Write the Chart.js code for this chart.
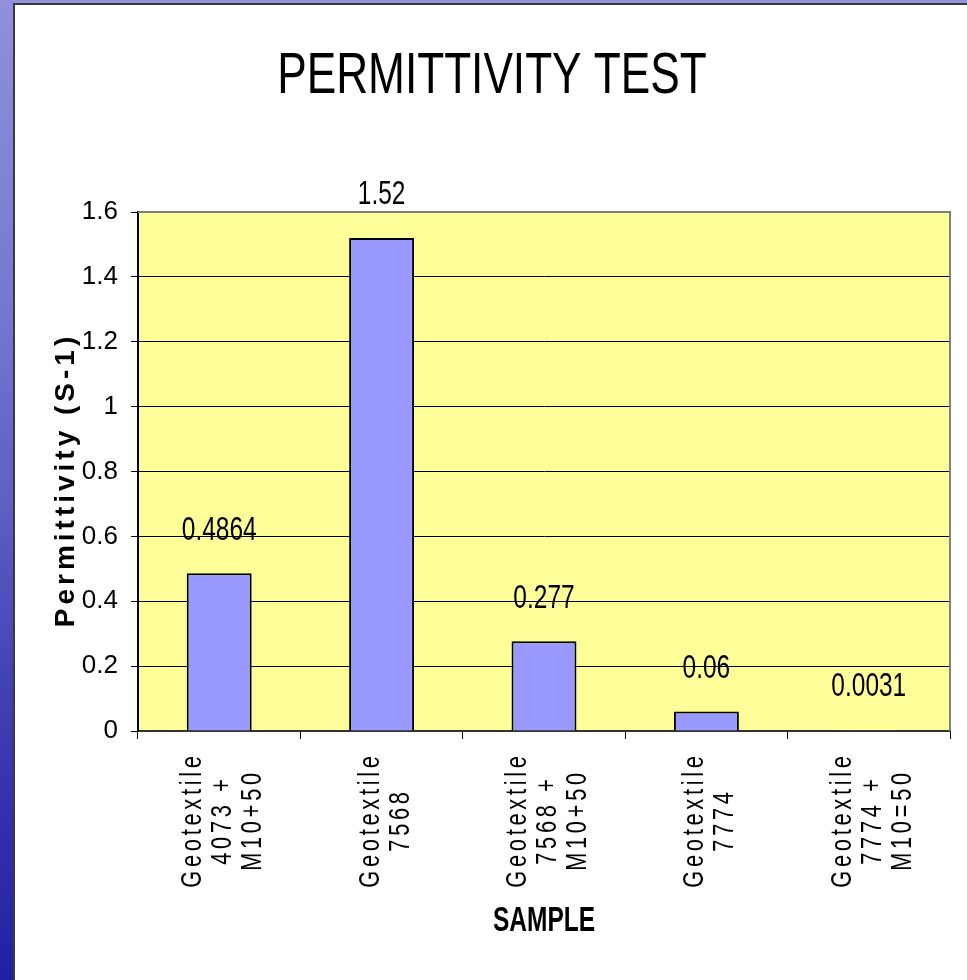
<!DOCTYPE html>
<html>
<head>
<meta charset="utf-8">
<title>Permittivity test</title>
<script src="https://cdn.jsdelivr.net/npm/chart.js@4/dist/chart.umd.min.js"></script>
<style>
  html, body { margin: 0; padding: 0; width: 967px; height: 980px; overflow: hidden; }
  body {
    position: relative;
    background: linear-gradient(to bottom, #9090dc 0%, #7878d2 30%, #6060c6 50%, #3a3ab2 75%, #2020a6 100%);
  }
  #panel {
    position: absolute; left: 13px; top: 3px; width: 952px; height: 975px;
    background: #fff; border-left: 2px solid #3a3a3a; border-top: 2px solid #3a3a3a;
  }
  #chart { position: absolute; left: 0; top: 0; }
</style>
</head>
<body>
<div id="panel"></div>
<canvas id="chart" width="967" height="980"></canvas>
<script>
// chart data
const samples = [
    ['Geotextile', '4073 +', 'M10+50'],
    ['Geotextile', '7568'],
    ['Geotextile', '7568 +', 'M10+50'],
    ['Geotextile', '7774'],
    ['Geotextile', '7774 +', 'M10=50']
];
const permittivity = [0.4864, 1.52, 0.277, 0.06, 0.0031];
const valueLabels = ['0.4864', '1.52', '0.277', '0.06', '0.0031'];
const yTicks = [0, 0.2, 0.4, 0.6, 0.8, 1, 1.2, 1.4, 1.6];
const chartTitle = 'PERMITTIVITY TEST';
const xTitle = 'SAMPLE';
const yTitle = 'Permittivity (S-1)';

const family = '"Liberation Sans", Arial, sans-serif';
Chart.defaults.font.family = family;
Chart.defaults.color = '#000';

// the original uses a narrow face, so squeeze text horizontally
function drawText(ctx, text, x, y, o) {
    ctx.save();
    ctx.translate(x, y);
    if (o.rotate) ctx.rotate(o.rotate);
    ctx.scale(o.sx || 1, 1);
    ctx.font = (o.weight || 'normal') + ' ' + o.size + 'px ' + family;
    ctx.letterSpacing = (o.spacing || 0) + 'px';
    ctx.fillStyle = '#000';
    ctx.textAlign = 'center';
    ctx.textBaseline = 'middle';
    ctx.fillText(text, 0, o.dy || 0);
    ctx.restore();
}

// yellow plot area + grey frame on top/right
const plotFrame = {
    id: 'plotFrame',
    beforeDraw(chart) {
        const { ctx, chartArea: a } = chart;
        ctx.save();
        ctx.fillStyle = '#ffff99';
        ctx.fillRect(a.left, a.top, a.right - a.left, a.bottom - a.top);
        ctx.restore();
    },
    afterDraw(chart) {
        const { ctx, chartArea: a } = chart;
        ctx.save();
        ctx.strokeStyle = '#808080';
        ctx.lineWidth = 2;
        ctx.beginPath();
        ctx.moveTo(a.left, a.top);
        ctx.lineTo(a.right, a.top);
        ctx.lineTo(a.right, a.bottom);
        ctx.stroke();
        ctx.restore();
    }
};

// value labels above each bar
const valueTags = {
    id: 'valueTags',
    afterDatasetsDraw(chart) {
        const bars = chart.getDatasetMeta(0).data;
        bars.forEach((bar, i) => {
            drawText(chart.ctx, valueLabels[i], bar.x, bar.y - 43, { size: 34, sx: 0.72 });
        });
    }
};

// titles and the vertical category labels
const texts = {
    id: 'texts',
    afterDraw(chart) {
        const { ctx, chartArea: a } = chart;
        const x = chart.scales.x;
        drawText(ctx, chartTitle, 492, 77, { size: 57, sx: 0.775 });
        drawText(ctx, xTitle, (a.left + a.right) / 2, 921, { size: 35, weight: 'bold', sx: 0.7 });
        drawText(ctx, yTitle, 66, 480, { size: 28, weight: 'bold', spacing: 4, rotate: -Math.PI / 2 });
        samples.forEach((lines, i) => {
            lines.forEach((t, j) => {
                drawText(ctx, t, x.getPixelForValue(i) + 4, x.top + 89, {
                    size: 29, sx: 0.75, spacing: 5, rotate: -Math.PI / 2,
                    dy: (j - (lines.length - 1) / 2) * 30
                });
            });
        });
    }
};

const ctx = document.getElementById('chart').getContext('2d');
const chart = new Chart(ctx, {
    type: 'bar',
    data: {
        labels: samples.map(s => s.join(' ')),
        datasets: [{
            data: permittivity,
            backgroundColor: '#9999ff',
            borderColor: '#000',
            borderWidth: 2,
            barPercentage: 0.4,
            categoryPercentage: 1
        }]
    },
    options: {
        responsive: false,
        animation: false,
        devicePixelRatio: 1,
        layout: { padding: { left: 0, right: 17, top: 212, bottom: 0 } },
        plugins: {
            legend: { display: false },
            tooltip: { enabled: false },
            title: { display: false }
        },
        scales: {
            x: {
                ticks: { display: false },
                grid: { offset: true, drawOnChartArea: false, drawTicks: true, tickLength: 8, color: '#000', lineWidth: 1 },
                border: { color: '#333', width: 2 },
                afterFit(scale) { scale.height = 249; }
            },
            y: {
                min: 0,
                max: 1.6,
                afterBuildTicks(scale) { scale.ticks = yTicks.map(v => ({ value: v })); },
                ticks: {
                    font: { size: 26 },
                    padding: 13,
                    callback: v => String(v)
                },
                grid: { color: '#000', lineWidth: 1, tickLength: 7 },
                border: { color: '#000', width: 2 },
                afterFit(scale) { scale.width = 138; }
            }
        }
    },
    plugins: [plotFrame, valueTags, texts]
});
</script>
</body>
</html>
